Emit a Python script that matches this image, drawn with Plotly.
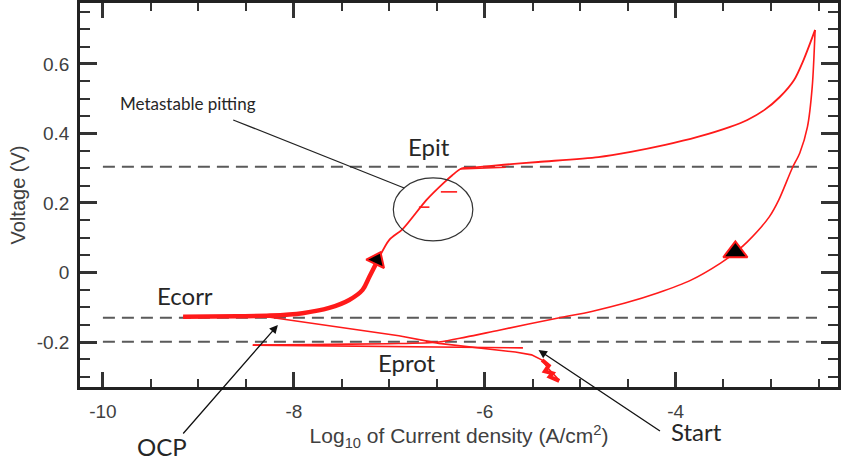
import plotly.graph_objects as go

# ---------------- data ----------------
# forward cathodic branch: from Start up to Ecorr
fwd_cath_logi = [-5.22, -5.28, -5.33, -5.40, -5.51, -5.68, -6.20, -6.48, -6.90, -7.60, -8.25, -8.70, -9.16]
fwd_cath_v = [-0.310, -0.292, -0.278, -0.252, -0.237, -0.229, -0.214, -0.204, -0.182, -0.155, -0.129, -0.128, -0.128]

# noisy start blob
start_logi = [-5.40, -5.33, -5.37, -5.29, -5.32, -5.22]
start_v = [-0.252, -0.268, -0.284, -0.290, -0.300, -0.312]

# forward anodic branch, noisy (thick) part near Ecorr
anodic_noisy_logi = [-9.16, -8.60, -8.25, -7.91, -7.63, -7.42, -7.28, -7.21, -7.13]
anodic_noisy_v = [-0.127, -0.126, -0.124, -0.117, -0.102, -0.079, -0.050, -0.013, 0.030]

# forward anodic branch up to the vertex
anodic_logi = [-7.13, -7.00, -6.86, -6.61, -6.43, -6.34, -6.24, -6.14, -5.80, -5.44, -4.81,
               -4.47, -4.11, -3.77, -3.43, -3.25, -3.07, -2.91, -2.76, -2.66, -2.54]
anodic_v = [0.030, 0.094, 0.125, 0.209, 0.258, 0.280, 0.300, 0.302, 0.310, 0.318, 0.332,
            0.347, 0.367, 0.390, 0.419, 0.439, 0.468, 0.505, 0.554, 0.612, 0.698]

# metastable pitting current spikes
spike_logi = [-6.69, -6.58, None, -6.46, -6.29, None, -6.26, -5.78]
spike_v = [0.188, 0.188, None, 0.232, 0.232, None, 0.298, 0.303]

# reverse scan (down from the vertex to the protection potential)
rev_logi = [-2.54, -2.57, -2.62, -2.70, -2.78, -2.92, -3.02, -3.25, -3.37, -3.53, -3.84,
            -4.19, -4.53, -4.88, -5.23, -5.85, -6.20, -6.48, -7.00, -7.80, -8.43]
rev_v = [0.698, 0.534, 0.419, 0.344, 0.300, 0.209, 0.160, 0.088, 0.059, 0.027, -0.022,
         -0.059, -0.088, -0.112, -0.131, -0.166, -0.186, -0.200, -0.205, -0.207, -0.209]
# reverse scan tail (cathodic again)
rev_tail_logi = [-8.43, -7.50, -6.50, -5.60]
rev_tail_v = [-0.209, -0.211, -0.213, -0.217]

# direction markers
arrow_fwd_logi = [-7.13]
arrow_fwd_v = [0.036]
arrow_rev_logi = [-3.375]
arrow_rev_v = [0.059]

# characteristic potentials (dashed lines)
level_names = ["Epit", "Ecorr", "Eprot"]
level_values = [0.304, -0.130, -0.199]

x_tickvals = [-10, -8, -6, -4]
x_ticktext = ["-10", "-8", "-6", "-4"]
y_tickvals = [-0.2, 0, 0.2, 0.4, 0.6]
y_ticktext = ["-0.2", "0", "0.2", "0.4", "0.6"]

RED = "#ff1a1a"

fig = go.Figure()

fig.add_trace(go.Scatter(x=fwd_cath_logi, y=fwd_cath_v, mode="lines",
                         line=dict(color=RED, width=1.6), hoverinfo="skip"))
fig.add_trace(go.Scatter(x=start_logi, y=start_v, mode="lines",
                         line=dict(color=RED, width=4), hoverinfo="skip"))
fig.add_trace(go.Scatter(x=anodic_noisy_logi, y=anodic_noisy_v, mode="lines",
                         line=dict(color=RED, width=4.5, shape="spline"), hoverinfo="skip"))
fig.add_trace(go.Scatter(x=anodic_logi, y=anodic_v, mode="lines",
                         line=dict(color=RED, width=1.8, shape="spline", smoothing=0.8),
                         hoverinfo="skip"))
fig.add_trace(go.Scatter(x=spike_logi, y=spike_v, mode="lines",
                         line=dict(color=RED, width=1.6), hoverinfo="skip"))
fig.add_trace(go.Scatter(x=rev_logi, y=rev_v, mode="lines",
                         line=dict(color=RED, width=1.6, shape="spline", smoothing=0.8),
                         hoverinfo="skip"))
fig.add_trace(go.Scatter(x=rev_tail_logi, y=rev_tail_v, mode="lines",
                         line=dict(color=RED, width=1.6), hoverinfo="skip"))
fig.add_trace(go.Scatter(x=arrow_fwd_logi, y=arrow_fwd_v, mode="markers",
                         marker=dict(symbol="triangle-up", size=17, angle=25, color="black",
                                     line=dict(color=RED, width=2)), hoverinfo="skip"))
fig.add_trace(go.Scatter(x=arrow_rev_logi, y=arrow_rev_v, mode="markers",
                         marker=dict(symbol="triangle-up", size=21, color="black",
                                     line=dict(color=RED, width=2)), hoverinfo="skip"))

# dashed reference lines
for v in level_values:
    fig.add_shape(type="line", xref="x", yref="y", x0=-10.0, x1=-2.52, y0=v, y1=v,
                  line=dict(color="#5a5a5a", width=2, dash="12px,7px"), layer="below")

# circle around metastable pitting
fig.add_shape(type="circle", xref="x", yref="y", x0=-6.958, x1=-6.125, y0=0.091, y1=0.272,
              line=dict(color="#333333", width=1.2))
# line from label to circle
fig.add_shape(type="line", xref="x", yref="y", x0=-8.635, y0=0.439, x1=-6.844, y1=0.243,
              line=dict(color="#222222", width=1.2))

txt_font = dict(family="Lato", size=24, color="#262626")
fig.add_annotation(x=-6.583, y=0.364, text="Epit", showarrow=False, font=txt_font)
fig.add_annotation(x=-9.135, y=-0.065, text="Ecorr", showarrow=False, font=txt_font)
fig.add_annotation(x=-6.81, y=-0.258, text="Eprot", showarrow=False, font=txt_font)
fig.add_annotation(xref="paper", yref="paper", x=0.1078, y=-0.156, text="OCP",
                   xanchor="center", yanchor="middle", showarrow=False, font=txt_font)
fig.add_annotation(xref="paper", yref="paper", x=0.8134, y=-0.1146, text="Start",
                   xanchor="center", yanchor="middle", showarrow=False, font=txt_font)
fig.add_annotation(x=-9.104, y=0.485, text="Metastable pitting", showarrow=False,
                   font=dict(family="Lato", size=17, color="#262626"))

# arrows
fig.add_annotation(x=-8.167, y=-0.151, ax=-96, ay=110, text="", showarrow=True,
                   arrowhead=2, arrowsize=1.3, arrowwidth=1.3, arrowcolor="#111111", standoff=0)
fig.add_annotation(x=-5.4375, y=-0.223, ax=123, ay=82, text="", showarrow=True,
                   arrowhead=2, arrowsize=1.3, arrowwidth=1.3, arrowcolor="#111111", standoff=0)

axis_common = dict(
    showgrid=False, zeroline=False, showline=True, linecolor="#222222", linewidth=2.5,
    mirror="allticks", ticks="inside", tickcolor="#333333", tickwidth=2.5,
    tickfont=dict(family="Liberation Sans", size=19, color="#404040"),
)

fig.update_layout(
    width=841, height=466,
    margin=dict(l=80, r=0, t=3, b=79),
    paper_bgcolor="white", plot_bgcolor="white",
    showlegend=False,
    xaxis=dict(axis_common, range=[-10.24, -2.30], tickmode="array",
               tickvals=x_tickvals, ticktext=x_ticktext, ticklen=15, ticklabelstandoff=5,
               minor=dict(dtick=0.5, tick0=0, ticks="inside", ticklen=8, tickwidth=2,
                          tickcolor="#333333"),
               title=dict(text="Log<sub>10</sub> of Current density (A/cm<sup>2</sup>)",
                          font=dict(family="Liberation Sans", size=21, color="#404040"),
                          standoff=7)),
    yaxis=dict(axis_common, range=[-0.3295, 0.7755], tickmode="array",
               tickvals=y_tickvals, ticktext=y_ticktext, ticklen=17, ticklabelstandoff=4,
               minor=dict(dtick=0.05, tick0=0, ticks="inside", ticklen=10, tickwidth=2,
                          tickcolor="#333333"),
               title=dict(text="Voltage (V)",
                          font=dict(family="Liberation Sans", size=20, color="#404040"),
                          standoff=6)),
)

fig.write_html("out.html")
